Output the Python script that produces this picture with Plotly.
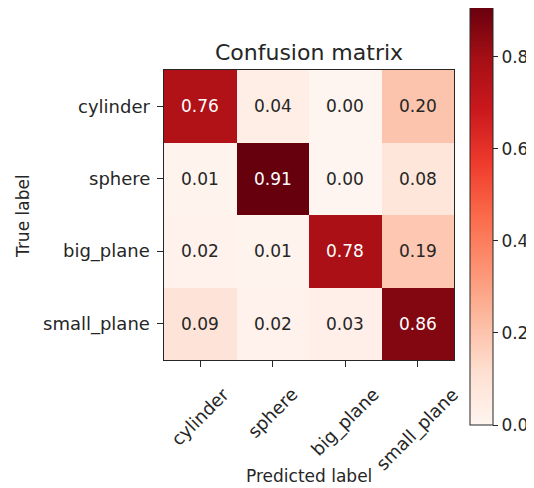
import plotly.graph_objects as go

classes = ["cylinder", "sphere", "big_plane", "small_plane"]
values = [
    [0.76, 0.04, 0.00, 0.20],
    [0.01, 0.91, 0.00, 0.08],
    [0.02, 0.01, 0.78, 0.19],
    [0.09, 0.02, 0.03, 0.86],
]
cbar_ticks = [0.0, 0.2, 0.4, 0.6, 0.8]

reds = [
    [0.0, "#fff5f0"], [0.125, "#fee0d2"], [0.25, "#fcbba1"], [0.375, "#fc9272"],
    [0.5, "#fb6a4a"], [0.625, "#ef3b2c"], [0.75, "#cb181d"], [0.875, "#a50f15"],
    [1.0, "#67000d"],
]

vmax = max(max(r) for r in values)
thresh = vmax / 2.0

# page body has an 8px margin, so the figure is offset by (8, 8)
OFF = 8
W, H = 534 - OFF, 488 - OFF
L, T = 164 - OFF, 70 - OFF
PW = PH = 290
R, B = W - L - PW, H - T - PH
FONT = "DejaVu Sans"
TXT = "#262626"
FS = 18
FC = 17
n = len(classes)

CB_LEFT, CB_THICK = 470, 23
CB_TOP, CB_BOTTOM = 6, 425


def px_x(xp):
    return (xp - OFF - L) / PW


def px_y(yp):
    return ((T + PH) - (yp - OFF)) / PH


fig = go.Figure()
fig.add_trace(go.Heatmap(
    z=values, x=classes, y=classes,
    colorscale=reds, zmin=0, zmax=vmax,
    colorbar=dict(
        x=px_x(CB_LEFT), xanchor="left",
        y=px_y((CB_TOP + CB_BOTTOM) / 2), yanchor="middle",
        len=CB_BOTTOM - CB_TOP, lenmode="pixels", thickness=CB_THICK,
        outlinecolor=TXT, outlinewidth=1,
        tickvals=cbar_ticks, ticktext=[f"{v:.1f}" for v in cbar_ticks],
        ticks="outside", ticklen=5, tickcolor=TXT,
        tickfont=dict(family=FONT, size=FC, color=TXT),
        xpad=0, ypad=0,
    ),
    hoverinfo="skip",
))

for i, row in enumerate(values):
    for j, v in enumerate(row):
        fig.add_annotation(
            x=classes[j], y=classes[i], text=f"{v:.2f}", showarrow=False,
            font=dict(family=FONT, size=FC, color="white" if v > thresh else TXT),
        )

# rotated x tick labels, centred under their ticks (matplotlib rotation=45)
for c in classes:
    fig.add_annotation(
        x=c, xref="x", y=px_y(381), yref="paper", text=c, showarrow=False,
        textangle=-45, xanchor="center", yanchor="top",
        font=dict(family=FONT, size=FS, color=TXT),
    )

# y tick labels
for c in classes:
    fig.add_annotation(
        x=px_x(152), xref="paper", y=c, yref="y", text=c, showarrow=False,
        xanchor="right", yanchor="middle",
        font=dict(family=FONT, size=FS, color=TXT),
    )

fig.add_annotation(text="Predicted label", xref="paper", yref="paper",
                   x=0.5, y=px_y(476), xanchor="center", yanchor="middle",
                   showarrow=False, font=dict(family=FONT, size=FC, color=TXT))
fig.add_annotation(text="True label", xref="paper", yref="paper",
                   x=px_x(23), y=px_y(216),
                   xanchor="center", yanchor="middle", textangle=-90,
                   showarrow=False, font=dict(family=FONT, size=FC, color=TXT))

fig.update_layout(
    width=W, height=H,
    margin=dict(l=L, r=R, t=T, b=B, autoexpand=False),
    paper_bgcolor="white", plot_bgcolor="white",
    title=dict(text="Confusion matrix", x=(L + PW / 2) / W, xanchor="center",
               y=1 - (52 - OFF) / H, yanchor="middle",
               font=dict(family=FONT, size=22, color=TXT)),
    xaxis=dict(
        range=[-0.5, n - 0.5], autorange=False,
        showticklabels=False, ticks="outside", ticklen=6, tickcolor=TXT,
        showline=True, linecolor=TXT, linewidth=1, mirror=True,
        showgrid=False, zeroline=False, automargin=False,
    ),
    yaxis=dict(
        range=[n - 0.5, -0.5], autorange=False,
        showticklabels=False, ticks="outside", ticklen=6, tickcolor=TXT,
        showline=True, linecolor=TXT, linewidth=1, mirror=True,
        showgrid=False, zeroline=False, automargin=False,
    ),
)

# prevent scrollbars from narrowing the visible page
fig.write_html(
    "out.html",
    post_script="document.documentElement.style.overflow='hidden';"
                "document.body.style.overflow='hidden';",
)
